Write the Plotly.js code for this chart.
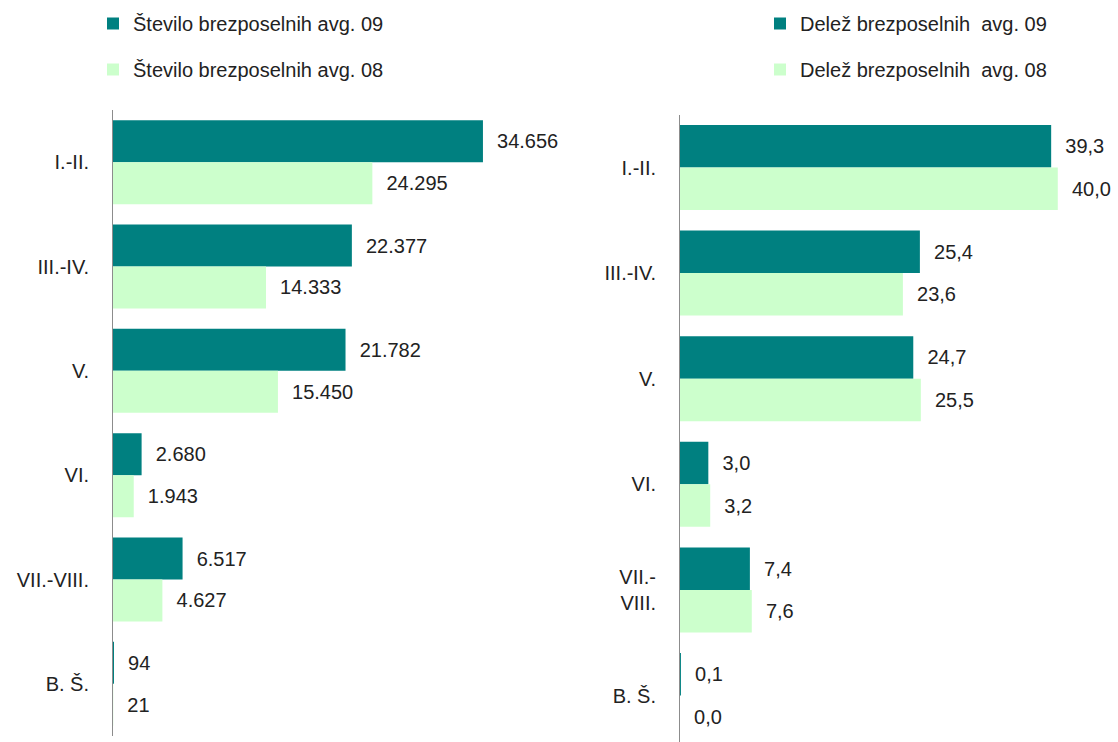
<!DOCTYPE html>
<html><head><meta charset="utf-8">
<script src="https://cdn.plot.ly/plotly-3.0.1.min.js"></script>
<style>html,body{margin:0;padding:0;background:#fff}#chart{width:1118px;height:742px}</style>
</head><body><div id="chart"></div>
<script>
var categories = ['I.-II.', 'III.-IV.', 'V.', 'VI.', 'VII.-VIII.', 'B. Š.'];
var categoriesRight = ['I.-II.', 'III.-IV.', 'V.', 'VI.', 'VII.-<br>VIII.', 'B. Š.'];
var count09 = [34656, 22377, 21782, 2680, 6517, 94];
var count08 = [24295, 14333, 15450, 1943, 4627, 21];
var share09 = [39.3, 25.4, 24.7, 3.0, 7.4, 0.1];
var share08 = [40.0, 23.6, 25.5, 3.2, 7.6, 0.0];
var names = ['Število brezposelnih avg. 09', 'Število brezposelnih avg. 08',
             'Delež brezposelnih  avg. 09', 'Delež brezposelnih  avg. 08'];

var DARK = '#008080', LIGHT = '#CCFFCC';
var FONT = 'Liberation Sans, Arial, sans-serif';
var FS = 20;
var pad = '\u00a0\u00a0';

function tr(y, x, name, color, xa, ya, leg, grp, fmt) {
  return {
    type: 'bar', orientation: 'h', x: x, y: y, name: name,
    marker: {color: color, line: {width: 0}},
    xaxis: xa, yaxis: ya, legend: leg, legendgroup: grp,
    texttemplate: pad + fmt, textposition: 'outside', cliponaxis: false,
    constraintext: 'none',
    textfont: {family: FONT, size: FS, color: '#222'},
    hoverinfo: 'skip'
  };
}

var data = [
  tr(categories, count09, names[0], DARK, 'x', 'y', 'legend', 'a', '%{x:,}'),
  tr(categories, count08, names[1], LIGHT, 'x', 'y', 'legend', 'b', '%{x:,}'),
  tr(categoriesRight, share09, names[2], DARK, 'x2', 'y2', 'legend2', 'c', '%{x:.1f}'),
  tr(categoriesRight, share08, names[3], LIGHT, 'x2', 'y2', 'legend2', 'd', '%{x:.1f}')
];

var W = 1118, H = 742;
var xaxBase = {showgrid: false, zeroline: false, showline: false, showticklabels: false, ticks: '', fixedrange: true};
var yaxBase = {showgrid: false, zeroline: false, showline: true, linecolor: '#8c8c8c', linewidth: 1,
  ticks: '', ticklabelstandoff: 19, tickfont: {family: FONT, size: FS, color: '#222'}, type: 'category'};

var legBase = {orientation: 'v', bgcolor: 'rgba(0,0,0,0)', font: {family: FONT, size: FS, color: '#222'},
  tracegroupgap: 17, traceorder: 'grouped', xanchor: 'left', yanchor: 'top', itemwidth: 30};

var layout = {
  width: W, height: H, paper_bgcolor: '#fff', plot_bgcolor: '#fff',
  margin: {l: 0, r: 0, t: 0, b: 0},
  separators: ',.',
  barmode: 'group', bargap: 0.195, bargroupgap: 0,
  showlegend: true,
  font: {family: FONT},
  xaxis: Object.assign({}, xaxBase, {domain: [113 / W, 540 / W], range: [0, 40000], anchor: 'y'}),
  yaxis: Object.assign({}, yaxBase, {domain: [6 / H, 632 / H], autorange: 'reversed', anchor: 'x'}),
  xaxis2: Object.assign({}, xaxBase, {domain: [680 / W, 1105 / W], range: [0, 45], anchor: 'y2'}),
  yaxis2: Object.assign({}, yaxBase, {domain: [0, (H - 114.7) / H], range: [5.44, -0.5], autorange: false, anchor: 'x2'}),
  legend: Object.assign({}, legBase, {x: 93 / W, y: 1 - 4 / H}),
  legend2: Object.assign({}, legBase, {x: 760 / W, y: 1 - 4 / H})
};

Plotly.newPlot('chart', data, layout, {displayModeBar: false, staticPlot: true});
</script></body></html>
